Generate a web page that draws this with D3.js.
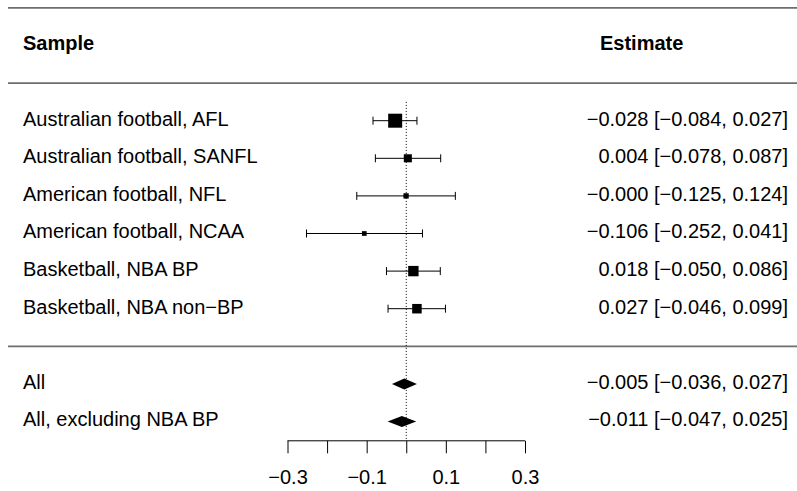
<!DOCTYPE html>
<html>
<head>
<meta charset="utf-8">
<script src="https://cdn.jsdelivr.net/npm/d3@7"></script>
<style>
  html, body { margin: 0; padding: 0; background: #fff; }
  svg { display: block; font-family: "Liberation Sans", Arial, sans-serif; }
</style>
</head>
<body>
<svg id="chart" width="797" height="491"></svg>
<script>
// ---- data ----
const studyLabels = [
  "Australian football, AFL",
  "Australian football, SANFL",
  "American football, NFL",
  "American football, NCAA",
  "Basketball, NBA BP",
  "Basketball, NBA non\u2212BP"
];
const studyEst = [-0.028, 0.004, -0.0004, -0.106, 0.018, 0.027];
const studyLo  = [-0.084, -0.078, -0.125, -0.252, -0.050, -0.046];
const studyHi  = [0.027, 0.087, 0.124, 0.041, 0.086, 0.099];

const summaryLabels = ["All", "All, excluding NBA BP"];
const summaryEst = [-0.005, -0.011];
const summaryLo  = [-0.036, -0.047];
const summaryHi  = [0.027, 0.025];

const tickValues = [-0.3, -0.2, -0.1, 0, 0.1, 0.2, 0.3];
const tickLabels = ["\u22120.3", "", "\u22120.1", "", "0.1", "", "0.3"];

const headerLeft = "Sample";
const headerRight = "Estimate";

// ---- layout ----
const svg = d3.select("#chart");
const W = 797;
const x = d3.scaleLinear().domain([-0.3, 0.3]).range([287.5, 525]);
const y = d3.scaleLinear().domain([0, 1]).range([120.7, 158.3]); // row index -> px
const fmt = v => (v < 0 ? "\u2212" : "") + Math.abs(v).toFixed(3);
const ciText = (e, l, h) => `${fmt(e)} [${fmt(l)}, ${fmt(h)}]`;

const studies = studyLabels.map((lab, i) => ({
  label: lab, est: studyEst[i], lo: studyLo[i], hi: studyHi[i], row: i,
  w: 1 / Math.pow((studyHi[i] - studyLo[i]) / 3.92, 2)
}));
const summaries = summaryLabels.map((lab, i) => ({
  label: lab, est: summaryEst[i], lo: summaryLo[i], hi: summaryHi[i], row: 7 + i
}));

const size = d3.scaleLinear()
  .domain(d3.extent(studies, d => d.w))
  .range([4.7, 14]);

const lineColor = "#6e6e6e";
const textX = 23, rightX = 788;
const fontSize = 20;
const textDy = "0.24em";

// horizontal rules
[-3, -1, 6].forEach(r => {
  svg.append("line")
    .attr("x1", 8).attr("x2", W)
    .attr("y1", y(r)).attr("y2", y(r))
    .attr("stroke", lineColor).attr("stroke-width", 1.8);
});

// headers
svg.append("text").attr("x", textX).attr("y", y(-2)).attr("dy", textDy)
  .attr("font-size", fontSize).attr("font-weight", "bold").text(headerLeft);
svg.append("text").attr("x", 600).attr("y", y(-2)).attr("dy", textDy)
  .attr("font-size", fontSize).attr("font-weight", "bold").text(headerRight);

// reference line
svg.append("line")
  .attr("x1", x(0)).attr("x2", x(0))
  .attr("y1", y(-0.5)).attr("y2", y(8.5))
  .attr("stroke", "#000").attr("stroke-width", 1)
  .attr("stroke-dasharray", "1,2");

// study rows
const g = svg.append("g");
studies.forEach(d => {
  const cy = y(d.row);
  g.append("line").attr("x1", x(d.lo)).attr("x2", x(d.hi))
    .attr("y1", cy).attr("y2", cy).attr("stroke", "#000").attr("stroke-width", 1);
  [d.lo, d.hi].forEach(v => {
    g.append("line").attr("x1", x(v)).attr("x2", x(v))
      .attr("y1", cy - 4).attr("y2", cy + 4).attr("stroke", "#000").attr("stroke-width", 1);
  });
  const s = size(d.w);
  g.append("rect").attr("x", x(d.est) - s / 2).attr("y", cy - s / 2)
    .attr("width", s).attr("height", s).attr("fill", "#000");
  g.append("text").attr("x", textX).attr("y", cy).attr("dy", textDy)
    .attr("font-size", fontSize).text(d.label);
  g.append("text").attr("x", rightX).attr("y", cy).attr("dy", textDy)
    .attr("text-anchor", "end").attr("font-size", fontSize)
    .text(ciText(d.est, d.lo, d.hi));
});

// summary rows
summaries.forEach(d => {
  const cy = y(d.row);
  const h = 5.5;
  const pts = [[x(d.lo), cy], [x(d.est), cy - h], [x(d.hi), cy], [x(d.est), cy + h]];
  g.append("polygon").attr("points", pts.map(p => p.join(",")).join(" "))
    .attr("fill", "#000");
  g.append("text").attr("x", textX).attr("y", cy).attr("dy", textDy)
    .attr("font-size", fontSize).text(d.label);
  g.append("text").attr("x", rightX).attr("y", cy).attr("dy", textDy)
    .attr("text-anchor", "end").attr("font-size", fontSize)
    .text(ciText(d.est, d.lo, d.hi));
});

// axis
const axis = d3.axisBottom(x)
  .tickValues(tickValues)
  .tickSize(12.5)
  .tickPadding(17)
  .tickFormat((d, i) => tickLabels[i]);
const ax = svg.append("g")
  .attr("transform", `translate(0,${y(8.5) + 0.5})`)
  .call(axis);
ax.select(".domain").attr("stroke", "#000").attr("d", `M${x(-0.3)},0H${x(0.3)}`);
ax.selectAll(".tick line").attr("stroke", "#000");
ax.selectAll(".tick text")
  .attr("font-size", fontSize)
  .attr("font-family", "Liberation Sans, Arial, sans-serif")
  .attr("fill", "#000");
</script>
</body>
</html>
